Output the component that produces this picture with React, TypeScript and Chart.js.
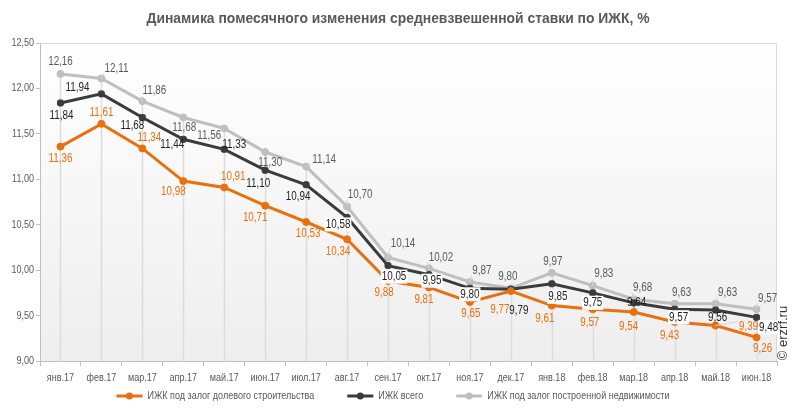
import React, { useEffect, useRef } from "react";
import { Chart, registerables } from "chart.js";

Chart.register(...registerables);

const TITLE = "Динамика помесячного изменения средневзвешенной ставки по ИЖК, %";
const COPYRIGHT = "© erzrf.ru";

const MONTHS = [
  "янв.17", "фев.17", "мар.17", "апр.17", "май.17", "июн.17", "июл.17", "авг.17", "сен.17",
  "окт.17", "ноя.17", "дек.17", "янв.18", "фев.18", "мар.18", "апр.18", "май.18", "июн.18",
];

const SERIES_NAMES = [
  "ИЖК под залог долевого строительства",
  "ИЖК всего",
  "ИЖК под залог построенной недвижимости",
];

const SHARED = [11.36, 11.61, 11.34, 10.98, 10.91, 10.71, 10.53, 10.34, 9.88, 9.81, 9.65, 9.77, 9.61, 9.57, 9.54, 9.43, 9.39, 9.26];
const TOTAL = [11.84, 11.94, 11.68, 11.44, 11.33, 11.10, 10.94, 10.58, 10.05, 9.95, 9.80, 9.79, 9.85, 9.75, 9.64, 9.57, 9.56, 9.48];
const BUILT = [12.16, 12.11, 11.86, 11.68, 11.56, 11.30, 11.14, 10.70, 10.14, 10.02, 9.87, 9.80, 9.97, 9.83, 9.68, 9.63, 9.63, 9.57];

const Y_MIN = 9;
const Y_MAX = 12.5;
const Y_STEP = 0.5;

// label placement (offset of label centre from its point), styling only
const SHARED_LABEL_OFFSETS = [[0, 12], [0, -11], [7, -11], [-10, 11], [9, -11], [-10, 12], [2, 12], [-9, 12], [-4, 12], [-5, 12], [1, 12], [-11, 19], [-7, 13], [-3, 13], [-5, 15], [-5, 14], [33, 1], [6, 11]];
const TOTAL_LABEL_OFFSETS = [[1, 13], [-24, -6], [-10, 8], [-11, 5], [10, -5], [-7, 13], [-8, 12], [-9, 7], [6, 11], [3, 6], [0, 6], [8, 21], [6, 13], [0, 10], [3, 0], [4, 8], [2, 8], [12, 10]];
const BUILT_LABEL_OFFSETS = [[0, -12], [15, -10], [12, -10], [1, 10], [-15, 7], [5, 11], [18, -7], [13, -12], [15, -14], [12, -11], [12, -11], [-3, -12], [1, -11], [11, -12], [9, -12], [7, -11], [12, -11], [11, -11]];
const TOTAL_LABEL_BG = [7, 8, 9, 10, 12, 13, 15, 17];

const COLORS = ["#E8700E", "#3B3B3B", "#BFBFBF"];
const LABEL_COLORS = ["#E8700E", "#1E1E1E", "#5A5A5A"];
const TEXT_GRAY = "#595959";
const SANS = '"Liberation Sans", Arial, sans-serif';
const NARROW_X = 0.82;

const fmt = (v: number) => v.toFixed(2).replace(".", ",");

// draw horizontally condensed text (emulates Arial Narrow)
function narrowText(ctx: any, text: string, x: number, y: number, size: number, color: string, align: string, bold = false, sx = NARROW_X) {
  ctx.save();
  ctx.font = `${bold ? "bold " : ""}${size}px ${SANS}`;
  ctx.fillStyle = color;
  ctx.textAlign = align;
  ctx.textBaseline = "middle";
  ctx.translate(x, y);
  ctx.scale(sx, 1);
  ctx.fillText(text, 0, 0);
  ctx.restore();
}
function narrowWidth(ctx: any, text: string, size: number, bold = false, sx = NARROW_X) {
  ctx.save();
  ctx.font = `${bold ? "bold " : ""}${size}px ${SANS}`;
  const w = ctx.measureText(text).width * sx;
  ctx.restore();
  return w;
}

const backgroundPlugin = {
  id: "bgPlot",
  beforeDraw(chart: any) {
    const { ctx, chartArea: a } = chart;
    ctx.save();
    ctx.fillStyle = "#ffffff";
    ctx.fillRect(0, 0, chart.width, chart.height);
    const g = ctx.createLinearGradient(0, a.top, 0, a.bottom);
    g.addColorStop(0, "#ffffff");
    g.addColorStop(1, "#eeeeee");
    ctx.fillStyle = g;
    ctx.fillRect(a.left, a.top, a.right - a.left, a.bottom - a.top);
    ctx.strokeStyle = "#d9d9d9";
    ctx.lineWidth = 1;
    ctx.beginPath();
    ctx.moveTo(a.left, a.top + 0.5);
    ctx.lineTo(a.right - 0.5, a.top + 0.5);
    ctx.lineTo(a.right - 0.5, a.bottom);
    ctx.stroke();
    ctx.restore();
  },
};

const dropLinesPlugin = {
  id: "dropLines",
  beforeDatasetsDraw(chart: any) {
    const { ctx, chartArea: a } = chart;
    const n = chart.data.labels.length;
    ctx.save();
    ctx.strokeStyle = "#dcdcdc";
    ctx.lineWidth = 1.5;
    for (let i = 0; i < n; i++) {
      let top = Infinity;
      let x = 0;
      chart.data.datasets.forEach((_: any, di: number) => {
        const el = chart.getDatasetMeta(di).data[i];
        if (el && el.y < top) {
          top = el.y;
          x = el.x;
        }
      });
      ctx.beginPath();
      ctx.moveTo(Math.round(x) + 0.5, top);
      ctx.lineTo(Math.round(x) + 0.5, a.bottom);
      ctx.stroke();
    }
    ctx.restore();
  },
};

const axisLabelsPlugin = {
  id: "axisLabels",
  afterDraw(chart: any) {
    const { ctx } = chart;
    const xs = chart.scales.x;
    const ys = chart.scales.y;
    (chart.data.labels as string[]).forEach((lab, i) => {
      narrowText(ctx, lab, xs.getPixelForTick(i), xs.top + 17, 11, TEXT_GRAY, "center");
    });
    ys.ticks.forEach((t: any) => {
      narrowText(ctx, fmt(t.value), ys.right - 6, ys.getPixelForValue(t.value), 11, TEXT_GRAY, "right");
    });
  },
};

const labelsPlugin = {
  id: "valueLabels",
  afterDatasetsDraw(chart: any) {
    const { ctx } = chart;
    const offsets = [SHARED_LABEL_OFFSETS, TOTAL_LABEL_OFFSETS, BUILT_LABEL_OFFSETS];
    [2, 1, 0].forEach((di) => {
      const meta = chart.getDatasetMeta(di);
      const values = chart.data.datasets[di].data as number[];
      meta.data.forEach((el: any, i: number) => {
        const [dx, dy] = offsets[di][i];
        const text = fmt(values[i]);
        const w = narrowWidth(ctx, text, 12);
        const lx = el.x + dx;
        const ly = el.y + dy;
        ctx.save();
        if ((di === 2 && Math.abs(dx) > 8) || (di === 0 && Math.abs(dx) > 20)) {
          ctx.strokeStyle = "#d5d5d5";
          ctx.lineWidth = 1;
          ctx.beginPath();
          ctx.moveTo(el.x, el.y);
          const ex = lx - Math.sign(dx) * (w / 2 + 1);
          const ey = ly - Math.sign(dy) * 5;
          ctx.lineTo(ex, ey);
          ctx.stroke();
        }
        if (di === 1 && TOTAL_LABEL_BG.includes(i)) {
          ctx.fillStyle = "#ffffff";
          ctx.fillRect(lx - w / 2 - 1, ly - 7, w + 2, 14);
        }
        ctx.restore();
        narrowText(ctx, text, lx, ly, 12, LABEL_COLORS[di], "center");
      });
    });
  },
};

const decorPlugin = {
  id: "decor",
  afterDraw(chart: any) {
    const { ctx } = chart;
    // title
    const tw = narrowWidth(ctx, TITLE, 15, true, 1);
    narrowText(ctx, TITLE, 398, 19, 15, TEXT_GRAY, "center", true, 503 / tw);

    // legend
    const markW = 26;
    const gapText = 5;
    const gapItem = 33;
    const widths = SERIES_NAMES.map((s) => markW + gapText + narrowWidth(ctx, s, 11));
    const total = widths.reduce((a, b) => a + b, 0) + gapItem * (SERIES_NAMES.length - 1);
    let x = 393 - total / 2;
    const y = 396;
    SERIES_NAMES.forEach((name, i) => {
      ctx.save();
      ctx.strokeStyle = COLORS[i];
      ctx.lineWidth = 3;
      ctx.beginPath();
      ctx.moveTo(x, y);
      ctx.lineTo(x + markW, y);
      ctx.stroke();
      ctx.fillStyle = COLORS[i];
      ctx.beginPath();
      ctx.arc(x + markW / 2, y, 3.5, 0, Math.PI * 2);
      ctx.fill();
      ctx.restore();
      narrowText(ctx, name, x + markW + gapText, y, 11, TEXT_GRAY, "left");
      x += widths[i] + gapItem;
    });

    // copyright
    ctx.save();
    ctx.translate(783, 333);
    ctx.rotate(-Math.PI / 2);
    ctx.font = `13px ${SANS}`;
    ctx.fillStyle = "#333333";
    ctx.textAlign = "center";
    ctx.textBaseline = "middle";
    ctx.fillText(COPYRIGHT, 0, 0);
    ctx.restore();
  },
};

export default function App() {
  const ref = useRef<HTMLCanvasElement | null>(null);

  useEffect(() => {
    document.body.style.margin = "0";
    const canvas = ref.current!;
    const datasets = [SHARED, TOTAL, BUILT].map((data, i) => ({
      label: SERIES_NAMES[i],
      data,
      borderColor: COLORS[i],
      backgroundColor: COLORS[i],
      pointBackgroundColor: COLORS[i],
      pointBorderColor: COLORS[i],
      pointRadius: 3.5,
      pointBorderWidth: 1,
      pointStyle: i === 1 ? "rectRounded" : "circle",
      borderWidth: 3,
      tension: 0,
      fill: false,
    }));

    const chart = new Chart(canvas, {
      type: "line",
      data: { labels: MONTHS, datasets },
      plugins: [backgroundPlugin, dropLinesPlugin, labelsPlugin, axisLabelsPlugin, decorPlugin],
      options: {
        responsive: false,
        animation: false,
        devicePixelRatio: 1,
        layout: { padding: { top: 43, right: 16, left: 0, bottom: 0 } },
        plugins: {
          legend: { display: false },
          title: { display: false },
          tooltip: { enabled: false },
        },
        scales: {
          x: {
            type: "category",
            offset: true,
            grid: {
              display: true,
              drawOnChartArea: false,
              drawTicks: true,
              tickLength: 5,
              color: "#bfbfbf",
              offset: true,
            },
            border: { display: true, color: "#bfbfbf", width: 1 },
            ticks: { display: false, autoSkip: false },
            afterFit: (s: any) => {
              s.height = 54;
            },
          },
          y: {
            min: Y_MIN,
            max: Y_MAX,
            ticks: { display: false, stepSize: Y_STEP },
            grid: {
              display: true,
              drawOnChartArea: false,
              drawTicks: true,
              tickLength: 4,
              color: "#bfbfbf",
            },
            border: { display: true, color: "#bfbfbf", width: 1 },
            afterFit: (s: any) => {
              s.width = 40;
            },
          },
        },
      } as any,
    });
    return () => chart.destroy();
  }, []);

  return <canvas ref={ref} width={793} height={415} style={{ display: "block", width: 793, height: 415 }} />;
}
